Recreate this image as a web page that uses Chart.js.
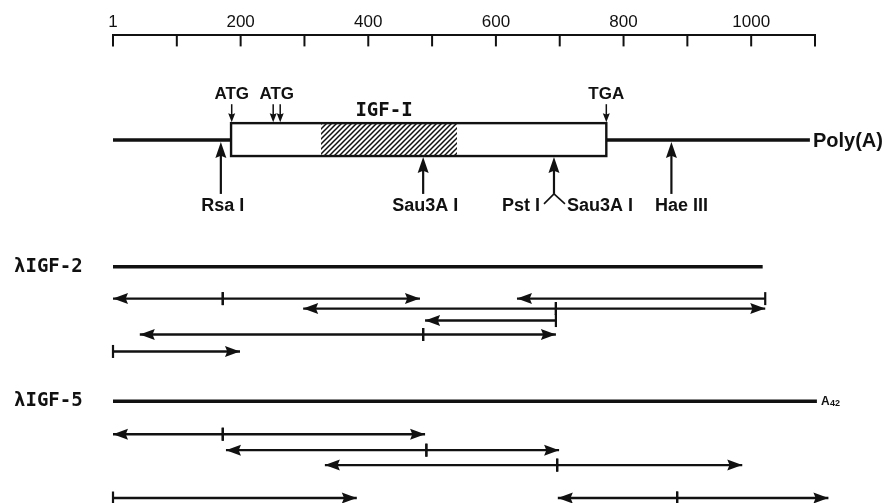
<!DOCTYPE html>
<html>
<head>
<meta charset="utf-8">
<script src="https://cdn.jsdelivr.net/npm/chart.js@4/dist/chart.umd.min.js"></script>
<style>
  html, body { margin: 0; padding: 0; background: #fff; }
  #wrap { width: 891px; height: 503px; }
</style>
</head>
<body>
<div id="wrap"><canvas id="igfMap"></canvas></div>
<script>
// ruler, in base pairs
const rulerMax = 1100;
const rulerStep = 100;

// IGF-I cDNA map
const mrnaEnd = 1092;
const codingRegion = [185, 773];
const igfDomain = [326, 539];
const codonNames = ['ATG', 'ATG', 'TGA'];
const codonSites = [[186], [251, 262], [773]];
const siteNames = [['Rsa I'], ['Sau3A I'], ['Pst I', 'Sau3A I'], ['Hae III']];
const siteBp = [169, 486, 691, 875];

// clones
const cloneNames = ['λIGF-2', 'λIGF-5'];
const cloneEnds = [1018, 1103];
const cloneLane = [23.2, 36.7];

// sequencing runs: from cut site (tick) to arrow end
const runLane  = [26.4, 26.4, 26.4, 27.4, 27.4, 28.6, 30.0, 30.0, 31.7,
                  40.0, 40.0, 41.6, 41.6, 43.1, 43.1, 46.4, 46.4, 46.4];
const runStart = [172, 172, 1022, 694, 694, 694, 486, 486, 0,
                  172, 172, 491, 491, 696, 696, 0, 884, 884];
const runEnd   = [0, 481, 633, 298, 1022, 489, 42, 694, 199,
                  0, 489, 177, 699, 332, 986, 382, 697, 1121];

// layout lanes on the y scale
const mapLane = 10.5, boxTop = 8.8, boxBottom = 12.1;
const codonLabelLane = 5.9, codonTailLane = 6.9, domainLabelLane = 7.6;
const siteTailLane = 15.9, siteLabelLane = 17.1;

const INK = '#111';

function seg(a, b, y, w) {
    return {
        data: [{x: a, y: y}, {x: b, y: y}],
        showLine: true,
        borderColor: INK,
        borderWidth: w,
        pointRadius: 0,
        clip: false
    };
}

const datasets = [seg(0, mrnaEnd, mapLane, 3.5)];
cloneEnds.forEach((e, i) => datasets.push(seg(0, e, cloneLane[i], 3.5)));
runStart.forEach((s, i) => datasets.push(seg(s, runEnd[i], runLane[i], 2.4)));

function head(ctx, tx, ty, dx, dy, len, half) {
    const bx = tx - dx * len, by = ty - dy * len;
    const nx = -dy, ny = dx;
    ctx.beginPath();
    ctx.moveTo(tx, ty);
    ctx.lineTo(bx + nx * half, by + ny * half);
    ctx.lineTo(tx - dx * len * 0.85, ty - dy * len * 0.85);
    ctx.lineTo(bx - nx * half, by - ny * half);
    ctx.closePath();
    ctx.fill();
}

function line(ctx, x1, y1, x2, y2, w) {
    ctx.lineWidth = w;
    ctx.beginPath();
    ctx.moveTo(x1, y1);
    ctx.lineTo(x2, y2);
    ctx.stroke();
}

function hatchPattern(ctx) {
    const c = document.createElement('canvas');
    c.width = c.height = 5;
    const g = c.getContext('2d');
    g.strokeStyle = INK;
    g.lineWidth = 1.5;
    g.beginPath();
    g.moveTo(-1, 6); g.lineTo(6, -1);
    g.moveTo(-1, 1); g.lineTo(1, -1);
    g.moveTo(4, 6); g.lineTo(6, 4);
    g.stroke();
    return ctx.createPattern(c, 'repeat');
}

const mapPlugin = {
    id: 'mapPlugin',
    afterDatasetsDraw(chart) {
        const ctx = chart.ctx;
        const X = v => chart.scales.x.getPixelForValue(v);
        const Y = v => chart.scales.y.getPixelForValue(v);
        const top = chart.chartArea.top;
        ctx.save();
        ctx.strokeStyle = INK;
        ctx.fillStyle = INK;
        ctx.lineCap = 'butt';

        // ruler ticks
        chart.scales.x.ticks.forEach(t => {
            const px = X(t.value);
            line(ctx, px, top, px, top + 11, 2);
        });

        // coding box with hatched IGF-I domain
        const bx0 = X(codingRegion[0]), bx1 = X(codingRegion[1]);
        const by0 = Y(boxTop), by1 = Y(boxBottom);
        ctx.fillStyle = '#fff';
        ctx.fillRect(bx0, by0, bx1 - bx0, by1 - by0);
        ctx.fillStyle = hatchPattern(ctx);
        ctx.fillRect(X(igfDomain[0]), by0, X(igfDomain[1]) - X(igfDomain[0]), by1 - by0);
        ctx.lineWidth = 2.4;
        ctx.strokeRect(bx0, by0, bx1 - bx0, by1 - by0);
        ctx.fillStyle = INK;

        ctx.textBaseline = 'middle';
        ctx.textAlign = 'center';
        ctx.font = 'bold 19px "DejaVu Sans Mono"';
        ctx.fillText('IGF-I', (X(igfDomain[0]) + X(igfDomain[1])) / 2 - 5, Y(domainLabelLane));

        // start / stop codons
        ctx.font = 'bold 17px "Liberation Sans"';
        codonSites.forEach((sites, i) => {
            let sum = 0;
            sites.forEach(bp => {
                const px = X(bp);
                sum += px;
                line(ctx, px, Y(codonTailLane), px, by0 - 6, 1.5);
                head(ctx, px, by0 - 1, 0, 1, 9, 3.5);
            });
            ctx.fillText(codonNames[i], sum / sites.length, Y(codonLabelLane));
        });

        // restriction sites
        ctx.font = 'bold 18px "Liberation Sans"';
        siteBp.forEach((bp, i) => {
            const px = X(bp);
            const inBox = bp >= codingRegion[0] && bp <= codingRegion[1];
            const tip = inBox ? by1 + 1 : Y(mapLane) + 2;
            const tail = Y(siteTailLane);
            line(ctx, px, tail, px, tip + 10, 2.2);
            head(ctx, px, tip, 0, -1, 16, 5.5);
            const names = siteNames[i];
            if (names.length === 1) {
                ctx.textAlign = 'center';
                const nudge = names[0] === 'Hae III' ? 10 : 2;
                ctx.fillText(names[0], px + nudge, Y(siteLabelLane));
            } else {
                line(ctx, px, tail, px - 10, tail + 10, 1.6);
                line(ctx, px, tail, px + 11, tail + 10, 1.6);
                ctx.textAlign = 'right';
                ctx.fillText(names[0], px - 14, Y(siteLabelLane));
                ctx.textAlign = 'left';
                ctx.fillText(names[1], px + 13, Y(siteLabelLane));
            }
        });

        ctx.textAlign = 'left';
        ctx.font = 'bold 20px "Liberation Sans"';
        ctx.fillText('Poly(A)', X(mrnaEnd) + 3, Y(mapLane) + 1);

        // clones
        ctx.font = 'bold 19px "DejaVu Sans Mono"';
        cloneNames.forEach((name, i) => {
            ctx.fillText(name, 14, Y(cloneLane[i]));
        });
        const ax = X(cloneEnds[1]) + 4, ay = Y(cloneLane[1]);
        ctx.font = 'bold 12px "Liberation Sans"';
        ctx.fillText('A', ax, ay);
        ctx.font = 'bold 9px "Liberation Sans"';
        ctx.fillText('42', ax + 9, ay + 2);

        // sequencing run arrowheads and cut-site ticks
        runStart.forEach((s, i) => {
            const e = runEnd[i];
            const y = Y(runLane[i]);
            const dir = e > s ? 1 : -1;
            head(ctx, X(e), y, dir, 0, 15, 5.5);
            line(ctx, X(s), y - 6.5, X(s), y + 6.5, 2.2);
        });

        ctx.restore();
    }
};

new Chart(document.getElementById('igfMap'), {
    type: 'scatter',
    data: { datasets: datasets },
    options: {
        responsive: true,
        maintainAspectRatio: false,
        animation: false,
        events: [],
        layout: { padding: { left: 113, right: 76, top: 9, bottom: 0 } },
        plugins: { legend: { display: false }, tooltip: { enabled: false } },
        scales: {
            x: {
                type: 'linear',
                position: 'top',
                min: 0,
                max: rulerMax,
                grid: { display: false, drawTicks: false },
                border: { display: true, color: INK, width: 2 },
                ticks: {
                    stepSize: rulerStep,
                    autoSkip: false,
                    maxRotation: 0,
                    padding: 3,
                    color: INK,
                    font: { family: 'Liberation Sans', size: 17 },
                    callback: v => v === 0 ? '1' : (v % 200 === 0 ? String(v) : '')
                }
            },
            y: {
                type: 'linear',
                display: false,
                reverse: true,
                min: 0,
                max: 46.9
            }
        }
    },
    plugins: [mapPlugin]
});
</script>
</body>
</html>
